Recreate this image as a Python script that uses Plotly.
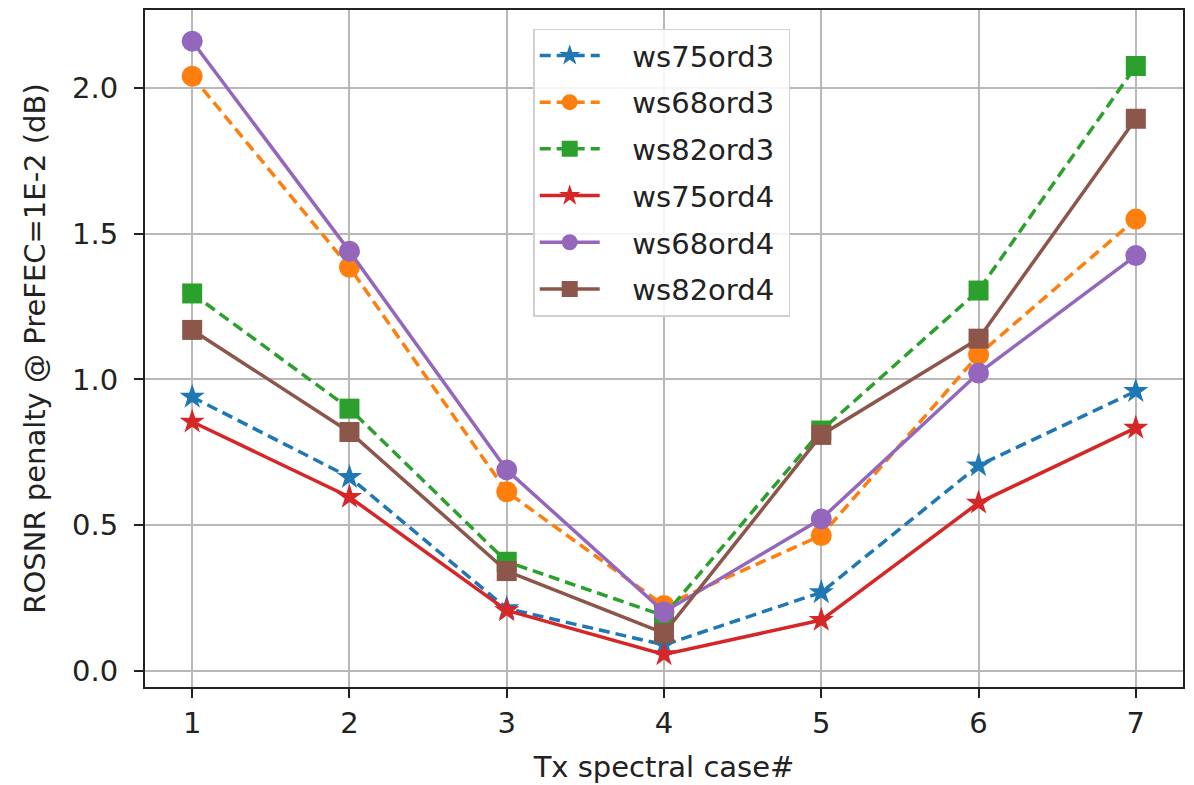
import plotly.graph_objects as go

cases = [1, 2, 3, 4, 5, 6, 7]
ws75ord3 = [0.94, 0.665, 0.215, 0.09, 0.27, 0.705, 0.96]
ws68ord3 = [2.04, 1.385, 0.615, 0.225, 0.465, 1.085, 1.55]
ws82ord3 = [1.295, 0.90, 0.375, 0.19, 0.825, 1.305, 2.075]
ws75ord4 = [0.855, 0.597, 0.208, 0.057, 0.175, 0.577, 0.834]
ws68ord4 = [2.16, 1.44, 0.69, 0.203, 0.522, 1.022, 1.425]
ws82ord4 = [1.17, 0.82, 0.343, 0.13, 0.81, 1.14, 1.894]

series = [
    ("ws75ord3", ws75ord3, "#1f77b4", "dash", "star"),
    ("ws68ord3", ws68ord3, "#ff7f0e", "dash", "circle"),
    ("ws82ord3", ws82ord3, "#2ca02c", "dash", "square"),
    ("ws75ord4", ws75ord4, "#d62728", "solid", "star"),
    ("ws68ord4", ws68ord4, "#9467bd", "solid", "circle"),
    ("ws82ord4", ws82ord4, "#8c564b", "solid", "square"),
]
msize = {"star": 19, "circle": 21, "square": 20}

fig = go.Figure()
for name, vals, color, dash, sym in series:
    fig.add_trace(go.Scatter(
        x=cases, y=vals, name="\u00a0\u00a0\u00a0" + name + "\u00a0", mode="lines+markers",
        legendgroup=name,
        line=dict(color=color, width=3.5, dash="11px,6px" if dash == "dash" else "solid"),
        marker=dict(symbol=sym, size=msize[sym], color=color, line=dict(width=0)),
    ))

font = dict(family="DejaVu Sans", size=29, color="#222222")
# page body has an 8px default margin, so the figure is 8px smaller
fig.update_layout(
    width=1186, height=777,
    margin=dict(l=137, r=11, t=2, b=98),
    paper_bgcolor="white", plot_bgcolor="white",
    font=font,
    showlegend=True,
    legend=dict(
        x=0.374, y=0.9725, xanchor="left", yanchor="top",
        bgcolor="rgba(255,255,255,0.85)", bordercolor="#d0d0d0", borderwidth=1.5,
        font=dict(family="DejaVu Sans", size=29, color="#222222"),
        traceorder="grouped", tracegroupgap=6, itemwidth=60,
    ),
    xaxis=dict(
        range=[0.7, 7.3], tickmode="array", tickvals=cases,
        ticktext=[str(c) for c in cases],
        showgrid=True, gridcolor="#b8b8b8", gridwidth=2,
        showline=True, linecolor="#222222", linewidth=2, mirror=True,
        ticks="outside", ticklen=9, tickwidth=2, tickcolor="#222222",
        zeroline=False, automargin=False,
        title=dict(text="Tx spectral case#", font=font, standoff=18),
    ),
    yaxis=dict(
        range=[-0.0545, 2.267], tickmode="array",
        tickvals=[0.0, 0.5, 1.0, 1.5, 2.0],
        ticktext=["0.0", "0.5", "1.0", "1.5", "2.0"],
        showgrid=True, gridcolor="#b8b8b8", gridwidth=2,
        showline=True, linecolor="#222222", linewidth=2, mirror=True,
        ticks="outside", ticklen=9, tickwidth=2, tickcolor="#222222",
        ticklabelstandoff=10,
        zeroline=False, automargin=False,
        title=dict(text="ROSNR penalty @ PreFEC=1E-2 (dB)", font=font, standoff=18),
    ),
)

fig.write_html("out.html")
